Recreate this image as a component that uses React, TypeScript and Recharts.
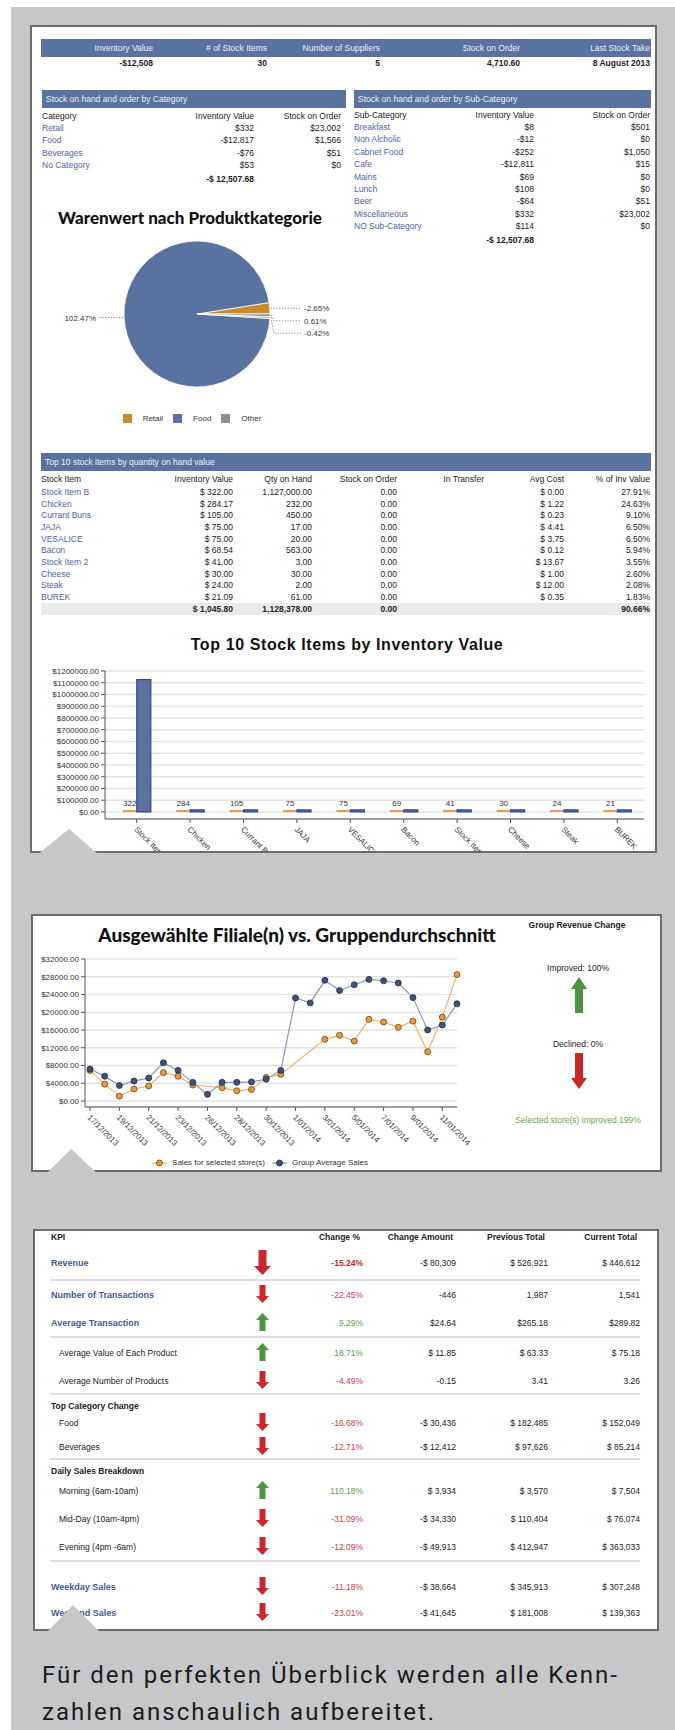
import React from 'react';
import {
  PieChart, Pie, Cell, Legend, BarChart, Bar, XAxis, YAxis, CartesianGrid,
  LabelList, LineChart, Line,
} from 'recharts';

// ---------------- data ----------------
const summaryLabels = ['Inventory Value', '# of Stock Items', 'Number of Suppliers', 'Stock on Order', 'Last Stock Take'];
const summaryValues = ['-$12,508', '30', '5', '4,710.60', '8 August 2013'];

const categoryNames = ['Retail', 'Food', 'Beverages', 'No Category'];
const categoryInventory = [332, -12817, -76, 53];
const categoryOnOrder = [23002, 1566, 51, 0];
const categoryTotal = -12507.68;

const subCategoryNames = ['Breakfast', 'Non Alcholic', 'Cabnet Food', 'Cafe', 'Mains', 'Lunch', 'Beer', 'Miscellaneous', 'NO Sub-Category'];
const subCategoryInventory = [8, -12, -252, -12811, 69, 108, -64, 332, 114];
const subCategoryOnOrder = [501, 0, 1050, 15, 0, 0, 51, 23002, 0];
const subCategoryTotal = -12507.68;

const pieNames = ['Retail', 'Food', 'No Category', 'Beverages'];
const pieValues = [332, -12817, 53, -76];
const pieLegendNames = ['Retail', 'Food', 'Other'];

const stockItems = ['Stock Item B', 'Chicken', 'Currant Buns', 'JAJA', 'VESALICE', 'Bacon', 'Stock Item 2', 'Cheese', 'Steak', 'BUREK'];
const stockInventory = [322, 284.17, 105, 75, 75, 68.54, 41, 30, 24, 21.09];
const stockQty = [1127000, 232, 450, 17, 20, 563, 3, 30, 2, 61];
const stockOnOrder = [0, 0, 0, 0, 0, 0, 0, 0, 0, 0];
const stockAvgCost = [0, 1.22, 0.23, 4.41, 3.75, 0.12, 13.67, 1, 12, 0.35];
const stockPct = [27.91, 24.63, 9.1, 6.5, 6.5, 5.94, 3.55, 2.6, 2.08, 1.83];
const stockTotalInventory = 1045.8;
const stockTotalQty = 1128378;
const stockTotalOnOrder = 0;
const stockTotalPct = 90.66;
const barTicks = [0, 100000, 200000, 300000, 400000, 500000, 600000, 700000, 800000, 900000, 1000000, 1100000, 1200000];

const salesDates = ['17/12/2013', '18/12/2013', '19/12/2013', '20/12/2013', '21/12/2013', '22/12/2013', '23/12/2013', '24/12/2013', '26/12/2013', '27/12/2013', '28/12/2013', '29/12/2013', '30/12/2013', '31/12/2013', '1/01/2014', '2/01/2014', '3/01/2014', '4/01/2014', '5/01/2014', '6/01/2014', '7/01/2014', '8/01/2014', '9/01/2014', '10/01/2014', '11/01/2014', '12/01/2014'];
const selectedSales = [6900, 3800, 1100, 2700, 3400, 6400, 5600, 3600, null, 3000, 2300, 2600, 5300, 6000, null, null, 13900, 14800, 13500, 18400, 17800, 16600, 18000, 11100, 18900, 28500];
const groupSales = [7200, 5600, 3500, 4500, 5200, 8600, 6900, 4200, 1500, 4200, 4200, 4300, 4900, 6900, 23200, 22100, 27200, 24900, 26200, 27400, 27100, 26600, 23300, 16000, 17100, 21900];
const lineSeriesNames = ['Sales for selected store(s)', 'Group Average Sales'];
const lineTicks = [0, 4000, 8000, 12000, 16000, 20000, 24000, 28000, 32000];

const kpiNames = ['Revenue', 'Number of Transactions', 'Average Transaction', 'Average Value of Each Product', 'Average Number of Products', 'Food', 'Beverages', 'Morning (6am-10am)', 'Mid-Day (10am-4pm)', 'Evening (4pm -6am)', 'Weekday Sales', 'Weekend Sales'];
const kpiChangePct = [-15.24, -22.45, 9.29, 18.71, -4.49, -16.68, -12.71, 110.18, -31.09, -12.09, -11.18, -23.01];
const kpiChangeAmount = ['-$ 80,309', '-446', '$24.64', '$ 11.85', '-0.15', '-$ 30,436', '-$ 12,412', '$ 3,934', '-$ 34,330', '-$ 49,913', '-$ 38,664', '-$ 41,645'];
const kpiPrevious = ['$ 526,921', '1,987', '$265.18', '$ 63.33', '3.41', '$ 182,485', '$ 97,626', '$ 3,570', '$ 110,404', '$ 412,947', '$ 345,913', '$ 181,008'];
const kpiCurrent = ['$ 446,612', '1,541', '$289.82', '$ 75.18', '3.26', '$ 152,049', '$ 85,214', '$ 7,504', '$ 76,074', '$ 363,033', '$ 307,248', '$ 139,363'];
const kpiSections = ['Top Category Change', 'Daily Sales Breakdown'];

// ---------------- styles ----------------
const FONT = '"Liberation Sans", Arial, sans-serif';
const TITLE_FONT = 'Lato, "Open Sans", sans-serif';
const GRAY = '#c6c7c9';
const BLUE = '#5a72a0';
const LINK = '#4b66a5';
const RED = '#c9282a';
const GREEN = '#4b9440';
const ORANGE = '#c98a30';

const nf = (v: number, d = 0) => Math.abs(v).toLocaleString('en-US', { minimumFractionDigits: d, maximumFractionDigits: d });
const money0 = (v: number) => (v < 0 ? '-' : '') + '$' + nf(v);
const moneyS2 = (v: number) => (v < 0 ? '-' : '') + '$ ' + nf(v, 2);

type TP = { x: number; y: number; a?: 'left' | 'right' | 'center'; s?: number; b?: boolean; w?: number; c?: string; f?: string; ls?: number; children?: React.ReactNode };
const T = ({ x, y, a = 'left', s = 8.5, b = false, w: weight, c = '#222', f = FONT, ls, children }: TP) => {
  const w = 600;
  const left = a === 'left' ? x : a === 'right' ? x - w : x - w / 2;
  const lh = Math.ceil(s * 1.6);
  return (
    <div style={{ position: 'absolute', left, top: y - lh / 2, width: w, height: lh, lineHeight: lh + 'px', textAlign: a, fontSize: s, fontWeight: weight ?? (b ? 700 : 400), color: c, fontFamily: f, whiteSpace: 'nowrap', letterSpacing: ls }}>
      {children}
    </div>
  );
};

const Panel = ({ l, t, r, b }: { l: number; t: number; r: number; b: number }) => (
  <div style={{ position: 'absolute', left: l, top: t, width: r - l, height: b - t, background: '#fff', border: '2px solid #6c6c6c', boxSizing: 'border-box' }} />
);

const Notch = ({ l, r, apex, top, bottom }: { l: number; r: number; apex: number; top: number; bottom: number }) => (
  <svg style={{ position: 'absolute', left: 0, top: 0 }} width={675} height={1730} pointerEvents="none">
    <polygon points={`${l},${bottom} ${apex},${top} ${r},${bottom}`} fill={GRAY} />
  </svg>
);

const HeadBar = ({ l, r, t, text }: { l: number; r: number; t: number; text?: string }) => (
  <div style={{ position: 'absolute', left: l, top: t, width: r - l, height: 18, background: BLUE }}>
    {text ? <span style={{ position: 'absolute', left: 4, top: 0, lineHeight: '18px', fontSize: 8.5, color: '#eef1f7', fontFamily: FONT, whiteSpace: 'nowrap' }}>{text}</span> : null}
  </div>
);

const Arrow = ({ cx, cy, h, w, sw, hh, up, color }: { cx: number; cy: number; h: number; w: number; sw: number; hh: number; up: boolean; color: string }) => {
  const a = (w - sw) / 2, b = (w + sw) / 2;
  const pts = up
    ? `${w / 2},0 ${w},${hh} ${b},${hh} ${b},${h} ${a},${h} ${a},${hh} 0,${hh}`
    : `${a},0 ${b},0 ${b},${h - hh} ${w},${h - hh} ${w / 2},${h} 0,${h - hh} ${a},${h - hh}`;
  return (
    <svg style={{ position: 'absolute', left: cx - w / 2, top: cy - h / 2 }} width={w} height={h}>
      <polygon points={pts} fill={color} />
    </svg>
  );
};

// ---------------- chart helpers ----------------
const pieData = pieNames.map((n, i) => ({ name: n, value: Math.abs(pieValues[i]), signed: pieValues[i] }));
const pieColors = [ORANGE, BLUE, '#a3a3a3', '#858585'];
const pieLegendColors = [ORANGE, BLUE, '#8e8e8e'];
const pieAbsTotal = pieValues.reduce((s, v) => s + Math.abs(v), 0);
const pieMids = (() => {
  let acc = 0;
  return pieValues.map((v) => {
    const a = (Math.abs(v) / pieAbsTotal) * 360;
    const m = acc + a / 2;
    acc += a;
    return m;
  });
})();

const renderPieLabel = (props: any) => {
  const { cx, cy, outerRadius, index } = props;
  const r = outerRadius;
  const items = pieMids.map((m, i) => {
    const rad = (m * Math.PI) / 180;
    return { i, right: Math.cos(rad) >= 0, ex: cx + r * Math.cos(rad), ey: cy - r * Math.sin(rad) };
  });
  const ly: number[] = [];
  [true, false].forEach((side) => {
    const list = items.filter((it) => it.right === side).sort((p, q) => p.ey - q.ey);
    let prev = -Infinity;
    list.forEach((it) => {
      const y = Math.max(it.ey, prev + 12.5);
      prev = y;
      ly[it.i] = y;
    });
  });
  const it = items[index];
  const y = ly[index];
  const pct = ((pieValues[index] / categoryTotal) * 100).toFixed(2) + '%';
  if (it.right) {
    const lx = cx + r + 34;
    const pts = Math.abs(y - it.ey) < 0.5 ? `${it.ex + 1},${it.ey} ${lx - 3},${y}` : `${it.ex + 1},${it.ey} ${it.ex + 4},${y} ${lx - 3},${y}`;
    return (
      <g>
        <polyline points={pts} fill="none" stroke="#666" strokeWidth={0.8} strokeDasharray="1.2 1.6" />
        <text x={lx} y={y} dy={3} textAnchor="start" fontSize={8} fill="#333" fontFamily={FONT}>{pct}</text>
      </g>
    );
  }
  const lx = cx - r - 28;
  return (
    <g>
      <polyline points={`${it.ex - 1},${it.ey} ${lx + 3},${y}`} fill="none" stroke="#666" strokeWidth={0.8} strokeDasharray="1.2 1.6" />
      <text x={lx} y={y} dy={3} textAnchor="end" fontSize={8} fill="#333" fontFamily={FONT}>{pct}</text>
    </g>
  );
};

const PieLegend = () => (
  <div style={{ display: 'flex', justifyContent: 'center', alignItems: 'center', fontSize: 8, fontFamily: FONT, color: '#333' }}>
    {pieLegendNames.map((n, i) => (
      <div key={n} style={{ display: 'flex', alignItems: 'center', marginLeft: i === 0 ? 0 : 10 }}>
        <span style={{ display: 'inline-block', width: 9, height: 9, background: pieLegendColors[i], marginRight: 11 }} />
        <span>{n}</span>
      </div>
    ))}
  </div>
);

const barData = stockItems.map((n, i) => ({ name: n, inv: stockInventory[i], qty: stockQty[i] }));
const lineData = salesDates.map((d, i) => ({ date: d, selected: selectedSales[i], group: groupSales[i] }));

const lineColors = ['#f3b06c', '#8799ba'];
const dotFills = ['#ee9a30', '#3d5478'];
const dotStrokes = ['#5a4630', '#1e2d45'];

const LineLegend = () => (
  <div style={{ display: 'flex', justifyContent: 'center', alignItems: 'center', fontSize: 8, fontFamily: FONT, color: '#333' }}>
    {lineSeriesNames.map((n, i) => (
      <div key={n} style={{ display: 'flex', alignItems: 'center', marginLeft: i === 0 ? 0 : 7 }}>
        <svg width={15} height={8}>
          <line x1={0} y1={4} x2={15} y2={4} stroke={lineColors[i]} strokeWidth={1.2} />
          <circle cx={7.5} cy={4} r={3} fill={dotFills[i]} stroke={dotStrokes[i]} strokeWidth={0.8} />
        </svg>
        <span style={{ marginLeft: 5 }}>{n}</span>
      </div>
    ))}
  </div>
);

const RotTick = (props: any) => {
  const { x, y, payload } = props;
  return (
    <g transform={`translate(${x - 3},${y + 5})`}>
      <text x={0} y={0} textAnchor="start" transform="rotate(45)" fontSize={8} fill="#333" fontFamily={FONT}>{payload.value}</text>
    </g>
  );
};

const axisTick = { fontSize: 8, fill: '#333', fontFamily: FONT };

// ---------------- app ----------------
export default function App() {
  const sumRight = [153, 267, 380, 520, 650];
  const catY = (i: number) => 128 + i * 12.4;
  const stockY = (i: number) => 492 + i * 11.65;
  const stockCols = [233, 312, 397, 484, 564, 650];

  const kpiLayout: any[] = [
    { k: 0, y: 1263, big: true }, { sep: 1280 }, { k: 1, y: 1295 }, { k: 2, y: 1323 }, { sep: 1337 },
    { k: 3, y: 1353 }, { k: 4, y: 1381 }, { sep: 1394 }, { s: 0, y: 1406 }, { k: 5, y: 1423 }, { k: 6, y: 1447 },
    { sep: 1459 }, { s: 1, y: 1471 }, { k: 7, y: 1491 }, { k: 8, y: 1519 }, { k: 9, y: 1547 }, { sep: 1561 },
    { k: 10, y: 1587 }, { k: 11, y: 1613 },
  ];
  const kpiMain = [0, 1, 2, 10, 11];
  const kpiCols = [363, 456, 548, 640];
  const CAP = 'Roboto, "DejaVu Sans", sans-serif';

  return (
    <div style={{ position: 'absolute', left: 0, top: 0, width: 675, height: 1730, overflow: 'hidden', background: '#fff', fontFamily: FONT }}>
      <div style={{ position: 'absolute', left: 11, top: 7, right: 0, bottom: 0, background: GRAY }} />
      <Panel l={30} t={25} r={657} b={853} />
      <Panel l={31} t={914} r={662} b={1172} />
      <Panel l={33} t={1229} r={659} b={1631} />

      {/* summary */}
      <HeadBar l={41} r={651} t={39} />
      {summaryLabels.map((s, i) => <T key={s} x={sumRight[i]} y={48} a="right" c="#eef1f7">{s}</T>)}
      {summaryValues.map((s, i) => <T key={s} x={sumRight[i]} y={63} a="right" b>{s}</T>)}

      {/* category table */}
      <HeadBar l={42} r={346} t={90} text="Stock on hand and order by Category" />
      <T x={42} y={116}>Category</T>
      <T x={254} y={116} a="right">Inventory Value</T>
      <T x={341} y={116} a="right">Stock on Order</T>
      {categoryNames.map((n, i) => (
        <React.Fragment key={n}>
          <T x={42} y={catY(i)} c={LINK}>{n}</T>
          <T x={254} y={catY(i)} a="right">{money0(categoryInventory[i])}</T>
          <T x={341} y={catY(i)} a="right">{money0(categoryOnOrder[i])}</T>
        </React.Fragment>
      ))}
      <T x={254} y={179} a="right" b>{moneyS2(categoryTotal)}</T>

      {/* sub-category table */}
      <HeadBar l={354} r={651} t={90} text="Stock on hand and order by Sub-Category" />
      <T x={354} y={115}>Sub-Category</T>
      <T x={534} y={115} a="right">Inventory Value</T>
      <T x={650} y={115} a="right">Stock on Order</T>
      {subCategoryNames.map((n, i) => (
        <React.Fragment key={n}>
          <T x={354} y={catY(i) - 1} c={LINK}>{n}</T>
          <T x={534} y={catY(i) - 1} a="right">{money0(subCategoryInventory[i])}</T>
          <T x={650} y={catY(i) - 1} a="right">{money0(subCategoryOnOrder[i])}</T>
        </React.Fragment>
      ))}
      <T x={534} y={240} a="right" b>{moneyS2(subCategoryTotal)}</T>

      {/* pie */}
      <T x={190} y={218} a="center" s={17} w={900} f={TITLE_FONT} c="#111">Warenwert nach Produktkategorie</T>
      <div style={{ position: 'absolute', left: 42, top: 200 }}>
        <PieChart width={300} height={240}>
          <Pie data={pieData} dataKey="value" nameKey="name" cx={150} cy={109} outerRadius={73} startAngle={0} endAngle={360}
            stroke="#ffffff" strokeWidth={0.8} label={renderPieLabel} labelLine={false} isAnimationActive={false}>
            {pieData.map((d, i) => <Cell key={d.name} fill={pieColors[i]} />)}
          </Pie>
          <Legend layout="horizontal" verticalAlign="middle" align="center" wrapperStyle={{ top: 214, left: 0, width: 300 }} content={() => <PieLegend />} />
        </PieChart>
      </div>

      {/* top 10 table */}
      <HeadBar l={41} r={651} t={453} text="Top 10 stock items by quantity on hand value" />
      <T x={41} y={479}>Stock Item</T>
      {['Inventory Value', 'Qty on Hand', 'Stock on Order', 'In Transfer', 'Avg Cost', '% of Inv Value'].map((h, i) => (
        <T key={h} x={stockCols[i]} y={479} a="right">{h}</T>
      ))}
      {stockItems.map((n, i) => (
        <React.Fragment key={n}>
          <T x={41} y={stockY(i)} c={LINK}>{n}</T>
          <T x={stockCols[0]} y={stockY(i)} a="right">{moneyS2(stockInventory[i])}</T>
          <T x={stockCols[1]} y={stockY(i)} a="right">{nf(stockQty[i], 2)}</T>
          <T x={stockCols[2]} y={stockY(i)} a="right">{nf(stockOnOrder[i], 2)}</T>
          <T x={stockCols[4]} y={stockY(i)} a="right">{moneyS2(stockAvgCost[i])}</T>
          <T x={stockCols[5]} y={stockY(i)} a="right">{stockPct[i].toFixed(2) + '%'}</T>
        </React.Fragment>
      ))}
      <div style={{ position: 'absolute', left: 41, top: 603, width: 610, height: 12, background: '#ebebeb' }} />
      <T x={stockCols[0]} y={609} a="right" b>{moneyS2(stockTotalInventory)}</T>
      <T x={stockCols[1]} y={609} a="right" b>{nf(stockTotalQty, 2)}</T>
      <T x={stockCols[2]} y={609} a="right" b>{nf(stockTotalOnOrder, 2)}</T>
      <T x={stockCols[5]} y={609} a="right" b>{stockTotalPct.toFixed(2) + '%'}</T>

      {/* bar chart */}
      <T x={347} y={645} a="center" s={16} b c="#111" ls={0.6}>Top 10 Stock Items by Inventory Value</T>
      <div style={{ position: 'absolute', left: 32, top: 660 }}>
        <BarChart width={623} height={191} data={barData} margin={{ top: 11, right: 11, left: 0, bottom: 0 }} barCategoryGap="24%" barGap={0}>
          <CartesianGrid vertical={false} stroke="#e3e3e3" strokeWidth={1.5} />
          <XAxis dataKey="name" height={32} interval={0} padding={{ left: 5, right: 0 }} tick={(p: any) => <RotTick {...p} />} tickSize={4} tickLine={{ stroke: '#555' }} axisLine={{ stroke: '#555' }} />
          <YAxis width={73} domain={[-60000, 1200000]} ticks={barTicks} interval={0} tickFormatter={(v: number) => '$' + v.toFixed(2)} tick={axisTick} tickSize={4} tickLine={{ stroke: '#555' }} axisLine={{ stroke: '#555' }} />
          <Bar dataKey="inv" fill="#e79a5c" minPointSize={2} isAnimationActive={false}>
            <LabelList dataKey="inv" position="top" offset={4} formatter={(v: any) => Math.round(Number(v))} style={{ fontSize: 8, fill: '#333', fontFamily: FONT }} />
          </Bar>
          <Bar dataKey="qty" fill={BLUE} stroke="#34488a" strokeWidth={1.2} minPointSize={2} isAnimationActive={false} />
        </BarChart>
      </div>

      {/* line chart */}
      <T x={297} y={934} a="center" s={19} w={900} f={TITLE_FONT} c="#111">Ausgewählte Filiale(n) vs. Gruppendurchschnitt</T>
      <div style={{ position: 'absolute', left: 33, top: 950 }}>
        <LineChart width={440} height={220} data={lineData} margin={{ top: 9, right: 16, left: 0, bottom: 0 }}>
          <CartesianGrid vertical={false} stroke="#e3e3e3" strokeWidth={1.5} />
          <XAxis dataKey="date" height={63} interval={1} padding={{ left: 5, right: 0 }} tick={(p: any) => <RotTick {...p} />} tickSize={4} tickLine={{ stroke: '#555' }} axisLine={{ stroke: '#555' }} />
          <YAxis width={52} domain={[-1350, 32000]} ticks={lineTicks} interval={0} tickFormatter={(v: number) => '$' + v.toFixed(2)} tick={axisTick} tickSize={4} tickLine={{ stroke: '#555' }} axisLine={{ stroke: '#555' }} />
          <Line dataKey="selected" name={lineSeriesNames[0]} stroke={lineColors[0]} strokeWidth={1.2} connectNulls
            dot={{ r: 3, fill: dotFills[0], stroke: dotStrokes[0], strokeWidth: 0.8 }} isAnimationActive={false} />
          <Line dataKey="group" name={lineSeriesNames[1]} stroke={lineColors[1]} strokeWidth={1.2}
            dot={{ r: 3, fill: dotFills[1], stroke: dotStrokes[1], strokeWidth: 0.8 }} isAnimationActive={false} />
          <Legend layout="horizontal" verticalAlign="middle" align="center" wrapperStyle={{ top: 208, left: 7, width: 440 }} content={() => <LineLegend />} />
        </LineChart>
      </div>
      <T x={577} y={925} a="center" s={8.5} b>Group Revenue Change</T>
      <T x={578} y={968} a="center" s={8.5}>Improved: 100%</T>
      <Arrow cx={579} cy={995} h={36} w={16} sw={8} hh={12} up color={GREEN} />
      <T x={578} y={1044} a="center" s={8.5}>Declined: 0%</T>
      <Arrow cx={579} cy={1071} h={36} w={16} sw={8} hh={11} up={false} color={RED} />
      <T x={578} y={1120} a="center" s={8.5} c="#6aa84f">Selected store(s) improved 199%</T>

      {/* KPI table */}
      <T x={51} y={1237} b>KPI</T>
      {['Change %', 'Change Amount', 'Previous Total', 'Current Total'].map((h, i) => (
        <T key={h} x={kpiCols[i] - 3} y={1237} a="right" b>{h}</T>
      ))}
      {kpiLayout.map((e, idx) => {
        if (e.sep !== undefined) {
          return <div key={idx} style={{ position: 'absolute', left: 50, top: e.sep - 1, width: 590, height: 2, background: '#dedede' }} />;
        }
        if (e.s !== undefined) {
          return <T key={idx} x={51} y={e.y} b>{kpiSections[e.s]}</T>;
        }
        const k = e.k;
        const main = kpiMain.includes(k);
        const pos = kpiChangePct[k] >= 0;
        const col = pos ? '#5f9e47' : '#d0403a';
        return (
          <React.Fragment key={idx}>
            <T x={main ? 51 : 59} y={e.y} b={main} s={main ? 9 : 8.5} c={main ? '#3f5b92' : '#222'}>{kpiNames[k]}</T>
            <Arrow cx={262} cy={e.y - 1} h={e.big ? 25 : 18} w={e.big ? 17 : 13} sw={e.big ? 8 : 6} hh={e.big ? 9 : 7} up={pos} color={pos ? GREEN : RED} />
            <T x={kpiCols[0]} y={e.y} a="right" b={!!e.big} c={e.big ? '#c8282a' : col}>{kpiChangePct[k].toFixed(2) + '%'}</T>
            <T x={kpiCols[1]} y={e.y} a="right">{kpiChangeAmount[k]}</T>
            <T x={kpiCols[2]} y={e.y} a="right">{kpiPrevious[k]}</T>
            <T x={kpiCols[3]} y={e.y} a="right">{kpiCurrent[k]}</T>
          </React.Fragment>
        );
      })}

      {/* caption */}
      <T x={42} y={1675} s={24} w={400} f={CAP} c="#1b1b1b" ls={2.0}>Für den perfekten Überblick werden alle Kenn-</T>
      <T x={42} y={1712} s={24} w={400} f={CAP} c="#1b1b1b" ls={2.0}>zahlen anschaulich aufbereitet.</T>

      <Notch l={37} r={99} apex={69} top={829} bottom={855} />
      <Notch l={46} r={98} apex={71} top={1149} bottom={1174} />
      <Notch l={46} r={101} apex={73} top={1605} bottom={1633} />
    </div>
  );
}
